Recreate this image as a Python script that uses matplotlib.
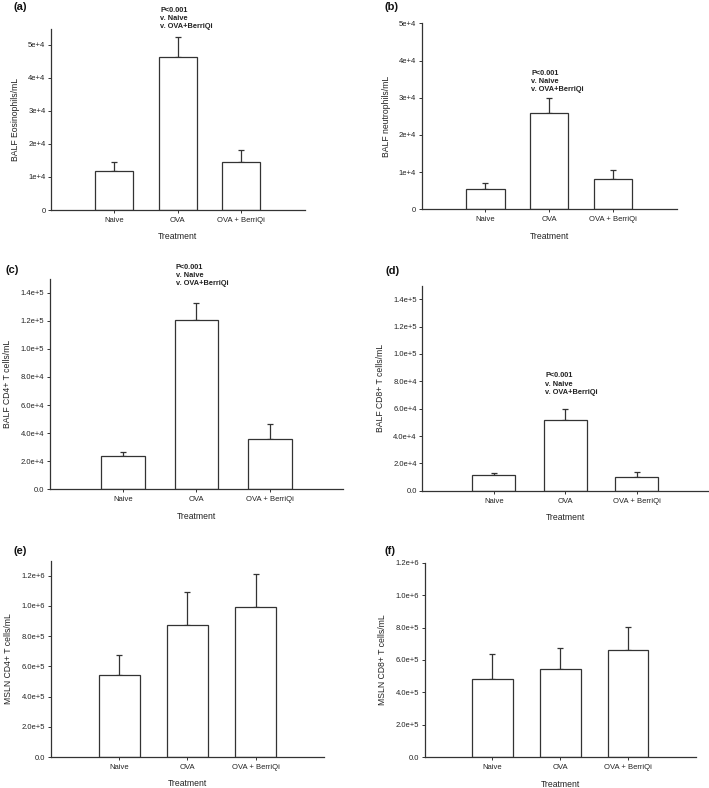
import matplotlib.pyplot as plt
import numpy as np

plt.rcParams['font.family'] = ['Liberation Sans', 'DejaVu Sans']

groups = ['Naive', 'OVA', 'OVA + BerriQi']

# means and upper error (mean + sem)
eos_mean = [1.17e4, 4.63e4, 1.45e4]
eos_err = [1.45e4, 5.25e4, 1.82e4]
neu_mean = [0.54e4, 2.60e4, 0.82e4]
neu_err = [0.72e4, 3.00e4, 1.05e4]
cd4_mean = [2.35e4, 1.203e5, 3.58e4]
cd4_err = [2.66e4, 1.329e5, 4.63e4]
cd8_mean = [1.12e4, 5.17e4, 1.00e4]
cd8_err = [1.32e4, 6.00e4, 1.34e4]
ln4_mean = [5.40e5, 8.76e5, 9.95e5]
ln4_err = [6.75e5, 1.092e6, 1.209e6]
ln8_mean = [4.85e5, 5.42e5, 6.60e5]
ln8_err = [6.35e5, 6.74e5, 8.01e5]

ylabels = ['BALF Eosinophils/mL', 'BALF neutrophils/mL', 'BALF CD4+ T cells/mL',
           'BALF CD8+ T cells/mL', 'MSLN CD4+ T cells/mL', 'MSLN CD8+ T cells/mL']
letters = ['(a)', '(b)', '(c)', '(d)', '(e)', '(f)']

eos_ticks = [0, 1e4, 2e4, 3e4, 4e4, 5e4]
eos_ticklabels = ['0', '1e+4', '2e+4', '3e+4', '4e+4', '5e+4']
cd_ticks = [0, 2e4, 4e4, 6e4, 8e4, 1e5, 1.2e5, 1.4e5]
cd_ticklabels = ['0.0', '2.0e+4', '4.0e+4', '6.0e+4', '8.0e+4', '1.0e+5', '1.2e+5', '1.4e+5']
ln_ticks = [0, 2e5, 4e5, 6e5, 8e5, 1e6, 1.2e6]
ln_ticklabels = ['0.0', '2.0e+5', '4.0e+5', '6.0e+5', '8.0e+5', '1.0e+6', '1.2e+6']

sig_text = 'P<0.001\nv. Naive\nv. OVA+BerriQi'

fig = plt.figure(figsize=(7.09, 7.88), dpi=100)

panels = [
    # rect, means, errs, ylim top, ticks, ticklabels, annotation y (data)
    ([0.0719, 0.7335, 0.358, 0.2297], eos_mean, eos_err, 5.48e4, eos_ticks, eos_ticklabels, 6.15e4),
    ([0.5948, 0.7344, 0.3597, 0.236], neu_mean, neu_err, 5e4, eos_ticks, eos_ticklabels, 3.75e4),
    ([0.0705, 0.379, 0.4133, 0.2665], cd4_mean, cd4_err, 1.495e5, cd_ticks, cd_ticklabels, 1.605e5),
    ([0.5956, 0.3773, 0.4034, 0.2602], cd8_mean, cd8_err, 1.5e5, cd_ticks, cd_ticklabels, 8.65e4),
    ([0.0715, 0.0393, 0.3855, 0.2487], ln4_mean, ln4_err, 1.297e6, ln_ticks, ln_ticklabels, None),
    ([0.599, 0.039, 0.3822, 0.247], ln8_mean, ln8_err, 1.2e6, ln_ticks, ln_ticklabels, None),
]

x = np.arange(len(groups))
edge = '#333333'

for i, (rect, mean, err, ytop, ticks, tlabels, ann_y) in enumerate(panels):
    ax = fig.add_axes(rect)
    mean = np.array(mean)
    up = np.array(err) - mean
    ax.bar(x, mean, width=0.6, color='white', edgecolor=edge, linewidth=0.9, zorder=2)
    ax.errorbar(x, mean, yerr=[np.zeros_like(up), up], fmt='none', ecolor=edge,
                elinewidth=0.9, capsize=2.5, capthick=0.9, zorder=1)
    ax.set_xlim(-1, 3)
    ax.set_ylim(0, ytop)
    ax.set_xticks(x)
    ax.set_xticklabels(groups, fontsize=5.5, color='#222222')
    ax.set_yticks(ticks)
    ax.set_yticklabels(tlabels, fontsize=5.5, color='#222222')
    ax.tick_params(axis='both', length=2, width=0.7, color=edge, pad=2)
    ax.tick_params(axis='x', pad=3)
    for s in ['top', 'right']:
        ax.spines[s].set_visible(False)
    for s in ['left', 'bottom']:
        ax.spines[s].set_linewidth(0.9)
        ax.spines[s].set_color(edge)
    ax.set_xlabel('Treatment', fontsize=6.2, color='#222222', labelpad=6)
    ax.set_ylabel(ylabels[i], fontsize=6.2, color='#222222', labelpad=6)
    if ann_y is not None:
        ax.text(0.72, ann_y, sig_text, fontsize=5.3, fontweight='bold', color='#222222',
                ha='left', va='top', linespacing=1.25, clip_on=False)

# panel letters (figure pixel coordinates converted to fractions)
letter_pos = [(13, 7), (384, 7), (5, 270), (385, 271), (14, 551), (384, 551)]
for lab, (px, py) in zip(letters, letter_pos):
    fig.text(px / 709, 1 - py / 788, lab, fontsize=8, fontweight='bold',
             ha='left', va='center', color='#111111')

fig.savefig('out.png', dpi=100)
